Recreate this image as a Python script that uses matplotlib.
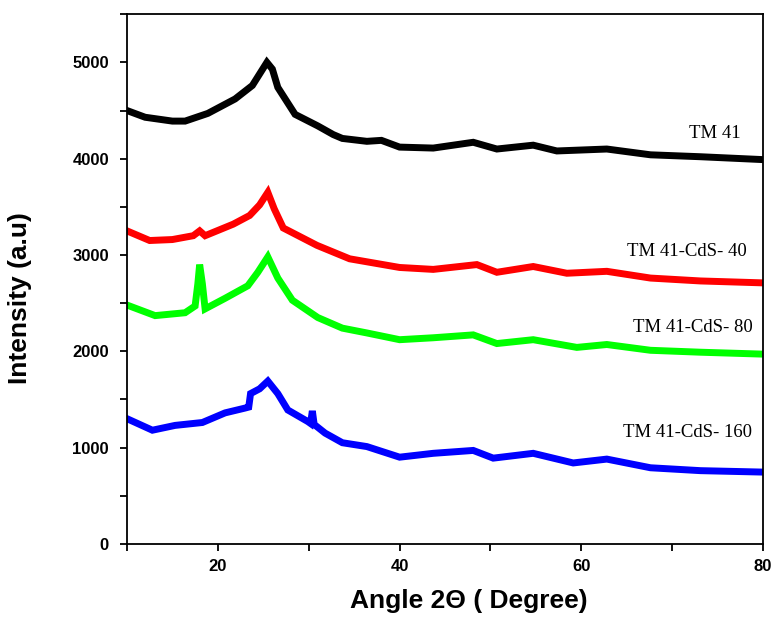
import numpy as np
import matplotlib
matplotlib.use("Agg")
import matplotlib.pyplot as plt
from matplotlib.ticker import MultipleLocator

# values (2theta in degrees, intensity in a.u.)
angle_tm41 = [10, 12, 15, 16.4, 18.9, 21.9, 23.8, 24.6, 25.4, 26.0, 26.6, 28.5, 31, 32.7,
              33.7, 36.4, 38, 40, 43.7, 48.1, 50.7, 54.7, 57.3, 62.8, 67.6, 73.1, 80]
int_tm41 = [4500, 4430, 4390, 4390, 4470, 4620, 4760, 4880, 5000, 4930, 4740, 4460, 4340,
            4250, 4210, 4180, 4190, 4120, 4110, 4170, 4100, 4140, 4080, 4100, 4040, 4020, 3990]

angle_cds40 = [10, 12.5, 15, 17.3, 18, 18.6, 21.7, 23.5, 24.6, 25.5, 26.2, 27.2, 30.9, 34.5,
               40, 43.7, 48.5, 50.7, 54.7, 58.4, 62.8, 67.6, 73.1, 80]
int_cds40 = [3250, 3150, 3160, 3200, 3250, 3200, 3320, 3410, 3520, 3650, 3480, 3280, 3100, 2960,
             2870, 2850, 2900, 2820, 2880, 2810, 2830, 2760, 2730, 2710]

angle_cds80 = [10, 13.1, 16.4, 17.5, 17.8, 18.0, 18.3, 18.6, 20.8, 23.3, 24.4, 25.5, 26.6,
               28.2, 31, 33.7, 36.4, 40, 43.7, 48.1, 50.7, 54.7, 59.5, 62.8, 67.6, 73.1, 80]
int_cds80 = [2480, 2370, 2400, 2470, 2700, 2900, 2700, 2440, 2550, 2680, 2820, 2980, 2760,
             2530, 2350, 2240, 2190, 2120, 2140, 2170, 2080, 2120, 2040, 2070, 2010, 1990, 1970]

angle_cds160 = [10, 12.8, 15.3, 18.3, 20.8, 23.0, 23.4, 23.6, 24.6, 25.5, 26.6, 27.7, 29.9,
                30.2, 30.4, 30.6, 31.8, 33.7, 36.4, 40, 43.7, 48.1, 50.3, 54.7, 59.1,
                62.8, 67.6, 73.1, 80]
int_cds160 = [1300, 1180, 1230, 1260, 1360, 1410, 1420, 1560, 1610, 1690, 1560, 1390, 1270,
              1250, 1380, 1240, 1150, 1050, 1010, 900, 940, 970, 890, 940, 840,
              880, 790, 760, 745]

labels = ["TM 41", "TM 41-CdS- 40", "TM 41-CdS- 80", "TM 41-CdS- 160"]
colors = ["black", "red", "#00ff00", "blue"]
label_x = [77.5, 78.2, 78.8, 78.8]
label_y = [4260, 3040, 2250, 1160]

fig = plt.figure(figsize=(7.74, 6.18), dpi=100)
ax = fig.add_axes([0.164, 0.12, 0.822, 0.857])

series = [(angle_tm41, int_tm41), (angle_cds40, int_cds40),
          (angle_cds80, int_cds80), (angle_cds160, int_cds160)]
for (xs, ys), c in zip(series, colors):
    ax.plot(xs, ys, color=c, lw=5, solid_joinstyle="miter")

for lab, lx, ly in zip(labels, label_x, label_y):
    ax.text(lx, ly, lab, ha="right", va="center", fontsize=13.5,
            family="Liberation Serif")

ax.set_xlim(10, 80)
ax.set_ylim(0, 5500)
ax.xaxis.set_major_locator(MultipleLocator(20))
ax.xaxis.set_minor_locator(MultipleLocator(10))
ax.yaxis.set_major_locator(MultipleLocator(1000))
ax.yaxis.set_minor_locator(MultipleLocator(500))
ax.tick_params(which="both", direction="out", length=5, width=1.3,
               top=False, right=False)
ax.tick_params(axis="y", pad=8)
ax.tick_params(axis="x", pad=6)
for lab in ax.get_xticklabels() + ax.get_yticklabels():
    lab.set_fontfamily("Liberation Sans")
    lab.set_fontsize(12)
    lab.set_fontweight("bold")
for sp in ax.spines.values():
    sp.set_linewidth(1.3)

ax.set_xlabel("Angle 2\u0398 ( Degree)", fontsize=19, fontweight="bold",
              family="Liberation Sans")
ax.set_ylabel("Intensity (a.u)", fontsize=19, fontweight="bold",
              family="Liberation Sans")
ax.xaxis.set_label_coords(0.537, -0.085)
ax.yaxis.set_label_coords(-0.15, 0.465)

fig.savefig("out.png", dpi=100)
